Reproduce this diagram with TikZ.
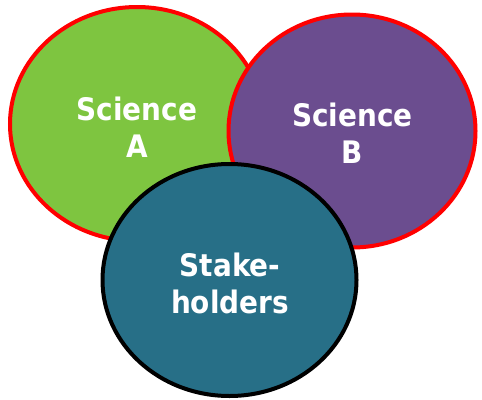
\documentclass[tikz,border=0pt]{standalone}
\usepackage{fontspec}
\setmainfont{DejaVu Sans Condensed}
\usetikzlibrary{shapes.geometric}
\definecolor{scigreen}{RGB}{126,197,64}
\definecolor{scipurple}{RGB}{107,77,143}
\definecolor{stteal}{RGB}{39,111,135}
\definecolor{rimred}{RGB}{255,0,0}
\begin{document}
\begin{tikzpicture}[x=1pt,y=-1pt,
  circ/.style={ellipse, draw, line width=4pt, inner sep=0pt},
  lbl/.style={text=white, align=center, font=\bfseries\fontsize{31}{37}\selectfont}]
\useasboundingbox (0,0) rectangle (482,399);
% the two science fields, B lying over A
\node[circ, draw=rimred, fill=scigreen, minimum width=254pt, minimum height=234pt] (sciA) at (137,124) {};
\node[circ, draw=rimred, fill=scipurple, minimum width=247pt, minimum height=233pt] (sciB) at (352,131) {};
% stakeholders on top
\node[circ, draw=black, fill=stteal, minimum width=254pt, minimum height=232pt] (stake) at (229.5,280) {};
% labels
\node[lbl] (labA) at (137,127) {Science\\A};
\node[lbl] (labB) at (352.5,133) {Science\\B};
\node[lbl] (labS) at (230,283) {Stake-\\holders};
\end{tikzpicture}
\end{document}
